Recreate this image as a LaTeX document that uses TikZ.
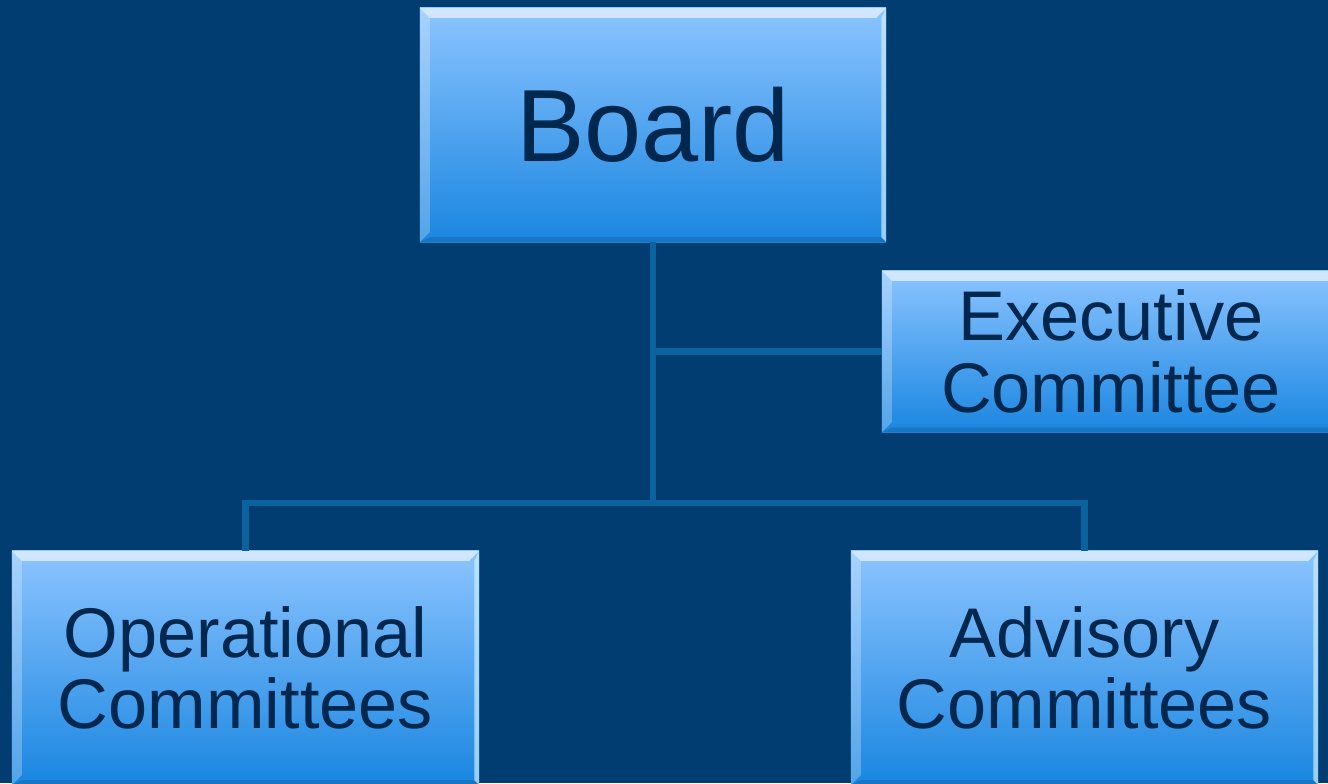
\documentclass[tikz,border=0pt]{standalone}
\usepackage{fontspec}
\setmainfont{Liberation Sans}
\definecolor{bgblue}{HTML}{023D71}
\definecolor{boxtop}{HTML}{8CC4FF}
\definecolor{boxbot}{HTML}{1A86E0}
\definecolor{inkblue}{HTML}{00284F}
\definecolor{linkblue}{HTML}{0A629E}
\tikzset{
	bevel/.style={path picture={
		\fill[white,opacity=0.6] (path picture bounding box.north west) -- (path picture bounding box.north east) -- ([shift={(-0.25cm,-0.25cm)}]path picture bounding box.north east) -- ([shift={(0.25cm,-0.25cm)}]path picture bounding box.north west) -- cycle;
		\fill[white,opacity=0.25] (path picture bounding box.north west) -- ([shift={(0.25cm,-0.25cm)}]path picture bounding box.north west) -- ([shift={(0.25cm,0.25cm)}]path picture bounding box.south west) -- (path picture bounding box.south west) -- cycle;
		\fill[cyan!20,opacity=0.7] (path picture bounding box.north east) -- ([shift={(-0.12cm,-0.25cm)}]path picture bounding box.north east) -- ([shift={(-0.12cm,0.12cm)}]path picture bounding box.south east) -- (path picture bounding box.south east) -- cycle;
		\fill[black,opacity=0.12] (path picture bounding box.south west) -- ([shift={(0.25cm,0.12cm)}]path picture bounding box.south west) -- ([shift={(-0.12cm,0.12cm)}]path picture bounding box.south east) -- (path picture bounding box.south east) -- cycle;
	}},
	orgbox/.style={bevel,top color=boxtop,bottom color=boxbot,draw=none,
		text=inkblue,align=center,inner sep=0pt,
		font=\fontsize{50pt}{51pt}\selectfont},
	link/.style={linkblue,line width=4.3pt}
}
\begin{document}
\begin{tikzpicture}[x=0.025cm,y=-0.025cm]
		\useasboundingbox (0,0) rectangle (1328,783);
		\fill[bgblue] (0,0) rectangle (1328,783);
		% boxes
		\node[orgbox,minimum width=11.65cm,minimum height=5.85cm,font=\fontsize{73pt}{75pt}\selectfont] (board) at (653,125) {Board};
		\node[orgbox,minimum width=11.45cm,minimum height=4.03cm] (exec) at (1111,351.5) {Executive\\Committee};
		\node[orgbox,minimum width=11.68cm,minimum height=5.85cm] (oper) at (245.5,668) {Operational\\Committees};
		\node[orgbox,minimum width=11.68cm,minimum height=5.85cm] (advis) at (1084.5,668) {Advisory\\Committees};
		% connectors
		\coordinate (hub) at (653,503);
		\begin{scope}[on background layer/.try]
		\draw[link] (board.south) -- (hub);
		\draw[link] (board.south |- exec.west) -- (exec.west);
		\draw[link] (oper.north) |- (hub) -| (advis.north);
		\end{scope}
		\end{tikzpicture}
\end{document}
